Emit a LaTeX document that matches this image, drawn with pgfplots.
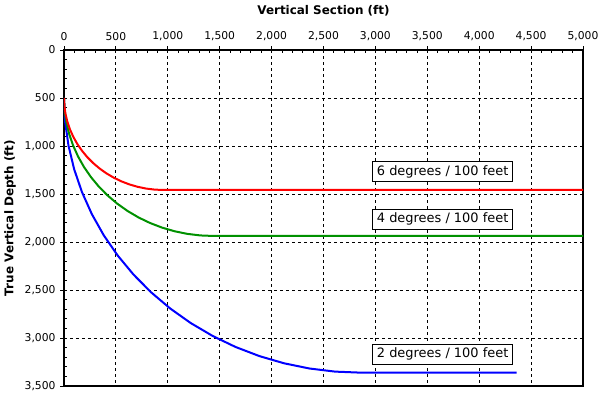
\documentclass[border=0pt]{standalone}
\usepackage{pgfplots}
\pgfplotsset{compat=1.18}
\usepackage{fontspec}
\setmainfont{DejaVu Sans}
\definecolor{cred}{RGB}{255,0,0}
\definecolor{cgreen}{RGB}{0,145,0}
\definecolor{cblue}{RGB}{0,0,255}
\tikzset{lbl/.style={draw=black, fill=white, line width=0.9bp, font=\fontsize{13}{15}\selectfont, inner xsep=4bp, inner ysep=0bp, minimum height=20bp}}
\begin{document}
\begin{tikzpicture}
\begin{axis}[
 width=519bp, height=336bp, scale only axis,
 xmin=0, xmax=5000, ymin=0, ymax=3500, y dir=reverse,
 xtick={0,500,...,5000}, ytick={0,500,...,3500},
 minor x tick num=4, minor y tick num=4,
 xtick pos=right, xticklabel pos=right, ytick pos=left,
 tick align=inside, major tick length=-4bp, minor tick length=3bp,
 grid=major, grid style={black, line width=0.8bp, dash pattern=on 3bp off 3bp},
 axis line style={line width=1.1bp},
 tick style={black, line width=0.8bp},
 /pgf/number format/assume math mode=true,
 /pgf/number format/1000 sep={,},
 ticklabel style={font=\fontsize{10.8}{12}\selectfont},
 xticklabel style={yshift=6bp},
 yticklabel style={xshift=-5bp},
 xlabel={Vertical Section (ft)}, ylabel={True Vertical Depth (ft)},
 label style={font=\fontsize{12}{14}\selectfont\bfseries},
 xlabel style={at={(axis description cs:0.5,1.116)}, anchor=center},
 ylabel style={at={(axis description cs:-0.104,0.5)}, anchor=center},
]
\addplot[cblue, line width=2bp] coordinates {
(0,500) (10.9,749.4) (43.5,996.8) (97.5,1240.5) (172.5,1478.5) (268.0,1709.1)
(383.3,1930.5) (517.4,2141.0) (669.4,2339.0) (838.0,2523.0) (1022.0,2691.6)
(1220.0,2843.6) (1430.5,2977.7) (1651.9,3093.0) (1882.5,3188.5) (2120.5,3263.5)
(2364.2,3317.6) (2611.6,3350.1) (2861,3361) (4360,3361)};
\addplot[cgreen, line width=2bp] coordinates {
(0,500) (5.5,625.2) (21.8,749.5) (49.0,871.9) (86.7,991.5) (134.6,1107.3)
(192.5,1218.5) (259.9,1324.2) (336.2,1423.7) (420.9,1516.1) (513.3,1600.8)
(612.8,1677.1) (718.5,1744.5) (829.7,1802.4) (945.5,1850.3) (1065.1,1888.0)
(1187.4,1915.2) (1311.8,1931.5) (1437,1937) (5000,1937)};
\addplot[cred, line width=2bp] coordinates {
(0,500) (3.7,583.5) (14.6,666.4) (32.6,748.0) (57.8,827.7) (89.8,904.9)
(128.3,979) (173.3,1049.5) (224.1,1115.8) (280.6,1177.4) (342.2,1233.9)
(408.5,1284.7) (479,1329.7) (553.1,1368.2) (630.3,1400.2) (710.1,1425.4)
(791.6,1443.4) (874.5,1454.4) (958,1458) (5000,1458)};
\node[lbl] at (axis cs:3648,1268) {6 degrees / 100 feet};
\node[lbl] at (axis cs:3648,1763) {4 degrees / 100 feet};
\node[lbl] at (axis cs:3648,3170) {2 degrees / 100 feet};
\end{axis}
\pgfresetboundingbox
\path ([shift={(-64bp,-12bp)}]current axis.south west) rectangle ([shift={(20bp,50bp)}]current axis.north east);
\end{tikzpicture}
\end{document}
